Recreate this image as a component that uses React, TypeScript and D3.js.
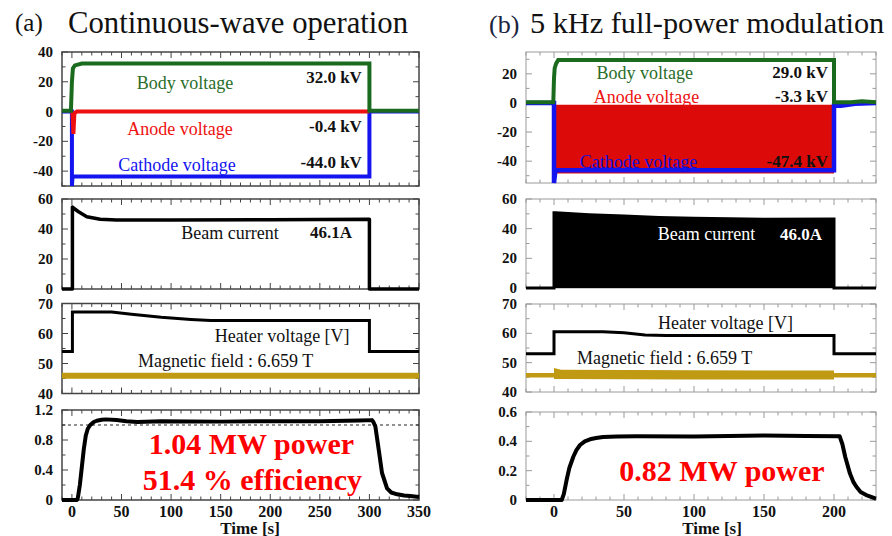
import React from 'react';
import * as d3 from 'd3';

const FONT = "'Liberation Serif','Times New Roman',Times,serif";

// ---------- (a) Continuous-wave operation ----------
const bodyTimeA = [-10, -1, 0, 1, 3, 10, 300, 300, 350];
const bodyValA = [0.5, 0.5, 20, 29, 31, 32.3, 32.3, 0.5, 0.5];
const anodeTimeA = [0.5, 1.5, 2.5, 5, 60, 150, 300];
const anodeValA = [0, -15, -1, 0, 0, 0, 0];
const cathodeTimeA = [-10, 0, 0, 0.6, 300, 300, 350];
const cathodeValA = [0, 0, -50, -43.7, -43.7, 0, 0];
const beamTimeA = [-10, 0.5, 0.5, 1.5, 6.7, 15, 28.5, 45, 100, 200, 300, 300, 350];
const beamValA = [0, 0, 54.7, 54, 51.5, 48.2, 46.5, 46, 46, 46.2, 46.5, 0, 0];
const heaterTimeA = [-10, 0.5, 0.5, 40, 60, 90, 120, 140, 300, 300, 350];
const heaterValA = [54, 54, 67.2, 67.2, 66.4, 65.4, 64.7, 64.3, 64.3, 54, 54];
const magTimeA = [-10, 350];
const magValA = [45.9, 45.9];
const powerTimeA = [-10, 5, 6, 8, 10, 12, 14, 16, 18.5, 22, 25, 30, 34, 45, 55, 66, 90, 150, 200, 250, 290, 302.6, 304, 306, 309.4, 312.7, 317.8, 322, 328, 335, 341, 350];
const powerValA = [0, 0, 0.03, 0.2, 0.44, 0.68, 0.86, 0.95, 1.0, 1.04, 1.057, 1.07, 1.075, 1.067, 1.05, 1.04, 1.05, 1.045, 1.05, 1.05, 1.06, 1.065, 1.04, 0.98, 0.67, 0.36, 0.156, 0.1, 0.076, 0.06, 0.053, 0.04];

// ---------- (b) 5 kHz full-power modulation ----------
const bodyTimeB = [-20, -0.5, 0, 0.5, 1.5, 3, 200, 200, 212, 220, 230];
const bodyValB = [0.5, 0.5, 17, 24, 27, 29.5, 29.5, 0.5, 0.5, 1.2, 0.5];
const anodeTimeB = [0.5, 200];
const anodeHighB = [-1.2, -1.2];
const anodeLowB = [-48.5, -48.5];
const cathodeTimeB = [-20, 0, 0, 1, 200, 200, 205, 215, 230];
const cathodeValB = [0, 0, -55, -46.3, -46.3, -2, -2, -0.5, 0];
const beamTimeB = [-20, 0, 0, 1, 10, 25, 50, 75, 100, 150, 200, 200, 230];
const beamValB = [0, 0, 50.8, 50.8, 50.2, 49.4, 48.5, 47.6, 47, 46.3, 46.5, 0, 0];
const heaterTimeB = [-20, 0, 0, 35, 50, 65, 80, 200, 200, 230];
const heaterValB = [53, 53, 60.5, 60.5, 60.2, 59.4, 59.3, 59.3, 53, 53];
const magTimeB = [-20, 0, 0, 5, 100, 200, 200, 230];
const magHighB = [46.45, 46.45, 48.2, 47.6, 47.4, 47.3, 46.45, 46.45];
const magLowB = [44.95, 44.95, 44.4, 44.4, 44.3, 44.3, 44.95, 44.95];
const powerTimeB = [-20, 5.5, 7, 9, 11, 13.8, 16, 18.6, 22, 25.7, 30, 35, 45, 59, 100, 150, 180, 204, 206, 208, 211.4, 214, 216, 219, 223, 229, 230];
const powerValB = [0, 0, 0.04, 0.136, 0.22, 0.295, 0.34, 0.375, 0.4, 0.414, 0.423, 0.43, 0.433, 0.435, 0.433, 0.44, 0.437, 0.435, 0.38, 0.295, 0.18, 0.12, 0.09, 0.055, 0.034, 0.012, 0.01];

// ---------- ticks ----------
const xTickLabelsA = [0, 50, 100, 150, 200, 250, 300, 350];
const xTickLabelsB = [0, 50, 100, 150, 200];
const yLabelsA1 = [40, 20, 0, -20, -40];
const yLabelsA2 = [60, 40, 20, 0];
const yLabelsA3 = [70, 60, 50, 40];
const yLabelsA4 = ['1.2', '0.8', '0.4', '0'];
const yLabelsB1 = [20, 0, -20, -40];
const yLabelsB2 = [60, 40, 20, 0];
const yLabelsB3 = [70, 60, 50, 40];
const yLabelsB4 = ['0.6', '0.4', '0.2', '0'];

type Pt = [number, number];
const zip = (t: number[], v: number[]): Pt[] => t.map((x, i) => [x, v[i]] as Pt);
type Scale = d3.ScaleLinear<number, number>;

const xA = d3.scaleLinear().domain([-10, 350]).range([62, 419]);
const xB = d3.scaleLinear().domain([-20, 230]).range([526, 876]);
const yA1 = d3.scaleLinear().domain([-50, 40]).range([186, 52]);
const yA2 = d3.scaleLinear().domain([0, 60]).range([289, 199]);
const yA3 = d3.scaleLinear().domain([40, 70]).range([393.5, 303.5]);
const yA4 = d3.scaleLinear().domain([0, 1.2]).range([500, 410]);
const yB1 = d3.scaleLinear().domain([-55, 35]).range([183, 52]);
const yB2 = d3.scaleLinear().domain([0, 60]).range([288, 199]);
const yB3 = d3.scaleLinear().domain([40, 70]).range([392, 304]);
const yB4 = d3.scaleLinear().domain([0, 0.6]).range([500, 412]);

function rng(a: number, b: number, step: number) {
  const out: number[] = [];
  const s = Math.ceil(a / step - 1e-9);
  for (let i = s; i * step <= b + 1e-9; i++) out.push(+(i * step).toFixed(6));
  return out;
}

function Frame({ x, y, xMinor, xMajor, yMinor, yMajor, color, sw, k }: { x: Scale; y: Scale; xMinor: number; xMajor: number; yMinor: number; yMajor: number; color: string; sw: number; k: string }) {
  const [x0, x1] = x.range();
  const [y0, y1] = y.range();
  const [dx0, dx1] = x.domain();
  const [dy0, dy1] = y.domain();
  const els: React.ReactNode[] = [];
  rng(dx0, dx1, xMinor).forEach((t, i) => {
    const isMaj = Math.abs(t / xMajor - Math.round(t / xMajor)) < 1e-6;
    const L = isMaj ? 6 : 3.5;
    const px = x(t);
    els.push(<line key={k + 'xb' + i} x1={px} x2={px} y1={y0} y2={y0 - L} stroke={color} strokeWidth={1} />);
    els.push(<line key={k + 'xt' + i} x1={px} x2={px} y1={y1} y2={y1 + L} stroke={color} strokeWidth={1} />);
  });
  rng(dy0, dy1, yMinor).forEach((v, i) => {
    const isMaj = Math.abs(v / yMajor - Math.round(v / yMajor)) < 1e-6;
    const L = isMaj ? 6 : 3.5;
    const py = y(v);
    els.push(<line key={k + 'yl' + i} x1={x0} x2={x0 + L} y1={py} y2={py} stroke={color} strokeWidth={1} />);
    els.push(<line key={k + 'yr' + i} x1={x1} x2={x1 - L} y1={py} y2={py} stroke={color} strokeWidth={1} />);
  });
  return (
    <g>
      <rect x={x0} y={y1} width={x1 - x0} height={y0 - y1} fill="none" stroke={color} strokeWidth={sw} />
      {els}
    </g>
  );
}

function YLabels({ y, labels, xr }: { y: Scale; labels: (number | string)[]; xr: number }) {
  return (
    <g>
      {labels.map((l) => (
        <text key={String(l)} x={xr} y={y(+l)} textAnchor="end" dominantBaseline="central" fontFamily={FONT} fontWeight="bold" fontSize={15} fill="#111">
          {String(l)}
        </text>
      ))}
    </g>
  );
}

function XLabels({ x, labels, yc }: { x: Scale; labels: number[]; yc: number }) {
  return (
    <g>
      {labels.map((l) => (
        <text key={l} x={x(l)} y={yc} textAnchor="middle" dominantBaseline="central" fontFamily={FONT} fontWeight="bold" fontSize={16} fill="#111">
          {l}
        </text>
      ))}
    </g>
  );
}

function path(x: Scale, y: Scale, t: number[], v: number[]) {
  return d3.line<Pt>().x((d) => x(d[0])).y((d) => y(d[1]))(zip(t, v)) || '';
}
function areaPath(x: Scale, y: Scale, t: number[], lo: number[] | number, hi: number[]) {
  return (
    d3
      .area<number>()
      .x((d) => x(t[d]))
      .y0((d) => y(Array.isArray(lo) ? lo[d] : lo))
      .y1((d) => y(hi[d]))(d3.range(t.length)) || ''
  );
}

function Txt(props: { x: number; y: number; children: React.ReactNode; fill?: string; size?: number; bold?: boolean; anchor?: string }) {
  return (
    <text x={props.x} y={props.y} fill={props.fill || '#111'} fontSize={props.size || 18} fontWeight={props.bold ? 'bold' : 'normal'} fontFamily={FONT} textAnchor={props.anchor || 'middle'} dominantBaseline="central">
      {props.children}
    </text>
  );
}

const GREEN = '#1b6b1f';
const RED = '#ee1010';
const BLUE = '#1414ee';
const GOLD = '#bf9a12';

export default function App() {
  const fa = '#444';
  const fb = '#9a9a9a';
  return (
    <svg width={892} height={536} style={{ position: 'absolute', left: 0, top: 0, background: '#fff' }}>
      <rect width={892} height={536} fill="#fff" />
      {/* titles */}
      <text x={15} y={31} fontFamily={FONT} fontSize={25} fill="#111">(a)</text>
      <text x={68} y={33} fontFamily={FONT} fontSize={30.7} fill="#111">Continuous-wave operation</text>
      <text x={489} y={33} fontFamily={FONT} fontSize={26} fill="#1a2440">(b)</text>
      <text x={530} y={33} fontFamily={FONT} fontSize={30.3} fill="#111">5 kHz full-power modulation</text>

      {/* frames first */}
      <Frame x={xA} y={yA1} xMinor={10} xMajor={50} yMinor={10} yMajor={20} color={fa} sw={1.5} k="a1" />
      <Frame x={xA} y={yA2} xMinor={10} xMajor={50} yMinor={10} yMajor={20} color={fa} sw={1.5} k="a2" />
      <Frame x={xA} y={yA3} xMinor={10} xMajor={50} yMinor={5} yMajor={10} color={fa} sw={1.5} k="a3" />
      <Frame x={xA} y={yA4} xMinor={10} xMajor={50} yMinor={0.2} yMajor={0.4} color={fa} sw={1.5} k="a4" />
      <Frame x={xB} y={yB1} xMinor={10} xMajor={50} yMinor={10} yMajor={20} color={fb} sw={1} k="b1" />
      <Frame x={xB} y={yB2} xMinor={10} xMajor={50} yMinor={10} yMajor={20} color={fb} sw={1} k="b2" />
      <Frame x={xB} y={yB3} xMinor={10} xMajor={50} yMinor={5} yMajor={10} color={fb} sw={1} k="b3" />
      <Frame x={xB} y={yB4} xMinor={10} xMajor={50} yMinor={0.1} yMajor={0.2} color={fb} sw={1} k="b4" />

      {/* ===== (a) panel 1 ===== */}
      <path d={path(xA, yA1, cathodeTimeA, cathodeValA)} fill="none" stroke={BLUE} strokeWidth={4} />
      <path d={path(xA, yA1, anodeTimeA, anodeValA)} fill="none" stroke={RED} strokeWidth={4} />
      <path d={path(xA, yA1, bodyTimeA, bodyValA)} fill="none" stroke={GREEN} strokeWidth={4} />
      <YLabels y={yA1} labels={yLabelsA1} xr={53} />
      <Txt x={xA(114)} y={yA1(19.2)} fill="#2a6e2a">Body voltage</Txt>
      <Txt x={xA(292.4)} y={yA1(22.6)} bold size={17} anchor="end">32.0 kV</Txt>
      <Txt x={xA(109)} y={yA1(-11.7)} fill={RED}>Anode voltage</Txt>
      <Txt x={xA(292.4)} y={yA1(-10.3)} bold size={17} anchor="end">-0.4 kV</Txt>
      <Txt x={xA(106)} y={yA1(-35.9)} fill={BLUE}>Cathode voltage</Txt>
      <Txt x={xA(292.4)} y={yA1(-34.5)} bold size={17} anchor="end">-44.0 kV</Txt>

      {/* ===== (a) panel 2 ===== */}
      <path d={path(xA, yA2, beamTimeA, beamValA)} fill="none" stroke="#000" strokeWidth={3.5} strokeLinejoin="round" />
      <YLabels y={yA2} labels={yLabelsA2} xr={53} />
      <Txt x={xA(159.5)} y={yA2(37.5)}>Beam current</Txt>
      <Txt x={xA(240)} y={yA2(37.5)} bold size={17} anchor="start">46.1A</Txt>

      {/* ===== (a) panel 3 ===== */}
      <path d={path(xA, yA3, magTimeA, magValA)} fill="none" stroke={GOLD} strokeWidth={6} />
      <path d={path(xA, yA3, heaterTimeA, heaterValA)} fill="none" stroke="#000" strokeWidth={3} />
      <YLabels y={yA3} labels={yLabelsA3} xr={53} />
      <Txt x={xA(212)} y={yA3(59.2)}>Heater voltage [V]</Txt>
      <Txt x={xA(155)} y={yA3(50.9)}>Magnetic field : 6.659 T</Txt>

      {/* ===== (a) panel 4 ===== */}
      <line x1={xA(-10)} x2={xA(350)} y1={yA4(1)} y2={yA4(1)} stroke="#222" strokeWidth={1} strokeDasharray="3,3" />
      <path d={path(xA, yA4, powerTimeA, powerValA)} fill="none" stroke="#000" strokeWidth={4} strokeLinejoin="round" />
      <YLabels y={yA4} labels={yLabelsA4} xr={53} />
      <XLabels x={xA} labels={xTickLabelsA} yc={511} />
      <Txt x={250} y={528} bold size={17}>Time [s]</Txt>
      <Txt x={xA(181)} y={yA4(0.76)} fill="#ff0000" bold size={30}>1.04 MW power</Txt>
      <Txt x={xA(182)} y={yA4(0.28)} fill="#ff0000" bold size={30}>51.4 % efficiency</Txt>

      {/* ===== (b) panel 1 ===== */}
      <path d={areaPath(xB, yB1, anodeTimeB, anodeLowB, anodeHighB)} fill="#dd0a0a" />
      <path d={path(xB, yB1, cathodeTimeB, cathodeValB)} fill="none" stroke={BLUE} strokeWidth={4.5} />
      <path d={path(xB, yB1, bodyTimeB, bodyValB)} fill="none" stroke={GREEN} strokeWidth={4} />
      <YLabels y={yB1} labels={yLabelsB1} xr={517} />
      <Txt x={xB(64.9)} y={yB1(20.7)} fill="#2a6e2a">Body voltage</Txt>
      <Txt x={xB(195.7)} y={yB1(21.2)} bold size={17} anchor="end">29.0 kV</Txt>
      <Txt x={xB(66)} y={yB1(4.3)} fill={RED}>Anode voltage</Txt>
      <Txt x={xB(195.7)} y={yB1(4.7)} bold size={17} anchor="end">-3.3 kV</Txt>
      <Txt x={xB(60.4)} y={yB1(-40.4)} fill="#1010d8">Cathode voltage</Txt>
      <Txt x={xB(195.7)} y={yB1(-39.9)} bold size={17} anchor="end">-47.4 kV</Txt>

      {/* ===== (b) panel 2 ===== */}
      <path d={areaPath(xB, yB2, beamTimeB, 0, beamValB)} fill="#000" />
      <path d={path(xB, yB2, beamTimeB, beamValB)} fill="none" stroke="#000" strokeWidth={3} />
      <YLabels y={yB2} labels={yLabelsB2} xr={517} />
      <Txt x={xB(109)} y={yB2(36.4)} fill="#fff">Beam current</Txt>
      <Txt x={xB(161.4)} y={yB2(36.4)} fill="#fff" bold size={17} anchor="start">46.0A</Txt>

      {/* ===== (b) panel 3 ===== */}
      <path d={areaPath(xB, yB3, magTimeB, magLowB, magHighB)} fill={GOLD} />
      <path d={path(xB, yB3, heaterTimeB, heaterValB)} fill="none" stroke="#000" strokeWidth={3} />
      <YLabels y={yB3} labels={yLabelsB3} xr={517} />
      <Txt x={xB(122.5)} y={yB3(63.4)}>Heater voltage [V]</Txt>
      <Txt x={xB(79)} y={yB3(51.6)}>Magnetic field : 6.659 T</Txt>

      {/* ===== (b) panel 4 ===== */}
      <path d={path(xB, yB4, powerTimeB, powerValB)} fill="none" stroke="#000" strokeWidth={4} strokeLinejoin="round" />
      <YLabels y={yB4} labels={yLabelsB4} xr={517} />
      <XLabels x={xB} labels={xTickLabelsB} yc={511} />
      <Txt x={712} y={528} bold size={17}>Time [s]</Txt>
      <Txt x={xB(120)} y={yB4(0.2045)} fill="#ff0000" bold size={30}>0.82 MW power</Txt>
    </svg>
  );
}
